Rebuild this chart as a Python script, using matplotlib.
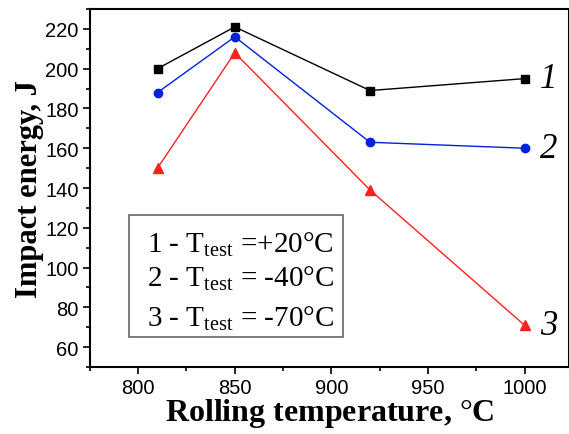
import matplotlib.pyplot as plt
from matplotlib.patches import Rectangle
from matplotlib.ticker import MultipleLocator

# rolling temperature, C
temps = [810, 850, 920, 1000]
# impact energy, J
energy_1 = [200, 221, 189, 195]
energy_2 = [188, 216, 163, 160]
energy_3 = [150, 208, 139, 71]
curve_labels = ['1', '2', '3']
legend_lines = [r'1 - T$_{\rm test}$ =+20$\degree$C',
                r'2 - T$_{\rm test}$ = -40$\degree$C',
                r'3 - T$_{\rm test}$ = -70$\degree$C']

plt.rcParams['mathtext.fontset'] = 'custom'
plt.rcParams['mathtext.rm'] = 'Liberation Serif'
plt.rcParams['mathtext.it'] = 'Liberation Serif:italic'
plt.rcParams['mathtext.bf'] = 'Liberation Serif:bold'

fig = plt.figure(figsize=(5.69, 4.35), dpi=100)
ax = fig.add_axes([0.158, 0.154, 0.842, 0.823])

ax.plot(temps, energy_1, color='black', marker='s', ms=5.5, lw=1)
ax.plot(temps, energy_2, color='#0022dd', marker='o', ms=6, lw=1)
ax.plot(temps, energy_3, color='#ff2020', marker='^', ms=6.5, lw=1)

ax.set_xlim(775, 1023)
ax.set_ylim(50, 230)
ax.xaxis.set_major_locator(MultipleLocator(50))
ax.xaxis.set_minor_locator(MultipleLocator(25))
ax.yaxis.set_major_locator(MultipleLocator(20))
ax.yaxis.set_minor_locator(MultipleLocator(10))
ax.tick_params(which='major', direction='out', length=5, width=1.2,
               labelsize=14.5, labelfontfamily='Liberation Sans', pad=3)
ax.tick_params(which='minor', direction='out', length=3, width=1.2)
for s in ax.spines.values():
    s.set_linewidth(1.5)

ax.set_xlabel('Rolling temperature, $\\degree$C', family='Liberation Serif',
              fontweight='bold', fontsize=23, labelpad=-1)
ax.set_ylabel('Impact energy, J', family='Liberation Serif',
              fontweight='bold', fontsize=22, labelpad=1)

for lab, y in zip(curve_labels, [energy_1[-1], energy_2[-1], energy_3[-1]]):
    ax.text(1008, y, lab, family='Liberation Serif', style='italic',
            fontsize=25, va='center', ha='left')

# legend box
ax.add_patch(Rectangle((0.081, 0.084), 0.447, 0.341, transform=ax.transAxes,
                       fc='white', ec='#666666', lw=1.2, zorder=3))
for line, yb in zip(legend_lines, [0.321, 0.226, 0.115]):
    ax.text(0.119, yb, line, transform=ax.transAxes, family='Liberation Serif',
            fontsize=21, va='baseline', ha='left', zorder=4)

fig.savefig('out.png', dpi=100)
